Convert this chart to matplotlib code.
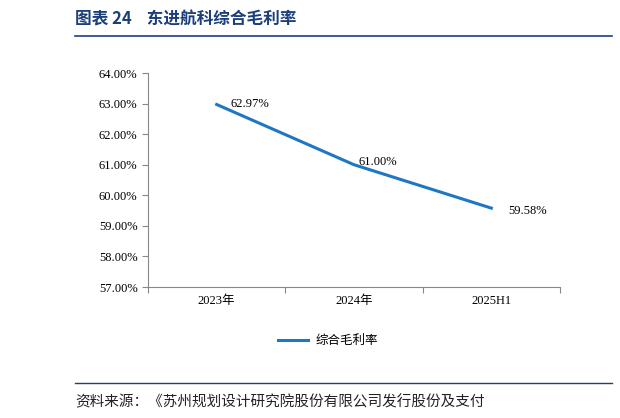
import matplotlib.pyplot as plt
from matplotlib.lines import Line2D

categories = ["2023年", "2024年", "2025H1"]
margin = [62.97, 61.00, 59.58]
yticks = [57, 58, 59, 60, 61, 62, 63, 64]

plt.rcParams["font.family"] = ["Liberation Serif", "Noto Sans CJK SC"]

fig = plt.figure(figsize=(6.2, 4.18), dpi=100)
W, H = 620, 418

ax = fig.add_axes([148 / W, 1 - 287 / H, (560 - 148) / W, (287 - 73) / H])
x = [0, 1, 2]
ax.plot(x, margin, color="#1f77c4", lw=2.2)
ax.set_xlim(-0.5, 2.5)
ax.set_ylim(57, 64)
ax.set_yticks(yticks)
ax.set_yticklabels([f"{v:.2f}%" for v in yticks], fontsize=9)
ax.set_xticks([-0.5, 0.5, 1.5, 2.5], minor=False)
ax.set_xticklabels([])
ax.set_xticks(x, minor=True)
ax.set_xticklabels(categories, minor=True, fontsize=9)
ax.tick_params(axis="x", which="minor", length=0, pad=6)
ax.tick_params(axis="x", which="major", length=4, direction="out", color="#888888")
ax.tick_params(axis="y", length=4, color="#888888")
for s in ["top", "right"]:
    ax.spines[s].set_visible(False)
for s in ["left", "bottom"]:
    ax.spines[s].set_color("#888888")

offsets = [(0.1, 0.0), (0.03, 0.1), (0.12, -0.1)]
for xi, v, (dx, dy) in zip(x, margin, offsets):
    ax.text(xi + dx, v + dy, f"{v:.2f}%", fontsize=9, ha="left", va="center")

# legend
fig.add_artist(Line2D([278 / W, 308 / W], [1 - 340 / H] * 2, color="#1f77c4", lw=2.2))
fig.text(316 / W, 1 - 340 / H, "综合毛利率", fontsize=9, va="center",
         family=["Noto Sans CJK SC"])

# title
fig.text(75 / W, 1 - 20 / H, "图表 24    东进航科综合毛利率", fontsize=12, fontweight="bold",
         color="#1b3f7a", va="center", family=["Noto Sans CJK SC", "Liberation Serif"])
fig.add_artist(Line2D([75 / W, 612 / W], [1 - 36 / H] * 2, color="#1b3f7a", lw=1.2))

# source
fig.add_artist(Line2D([75 / W, 612 / W], [1 - 383 / H] * 2, color="#1b3f7a", lw=1.0))
fig.text(75 / W, 1 - 402 / H, "资料来源：《苏州规划设计研究院股份有限公司发行股份及支付",
         fontsize=10.5, style="italic", va="center", color="#222222",
         family=["Noto Sans CJK SC"])

fig.savefig("out.png", dpi=100)
